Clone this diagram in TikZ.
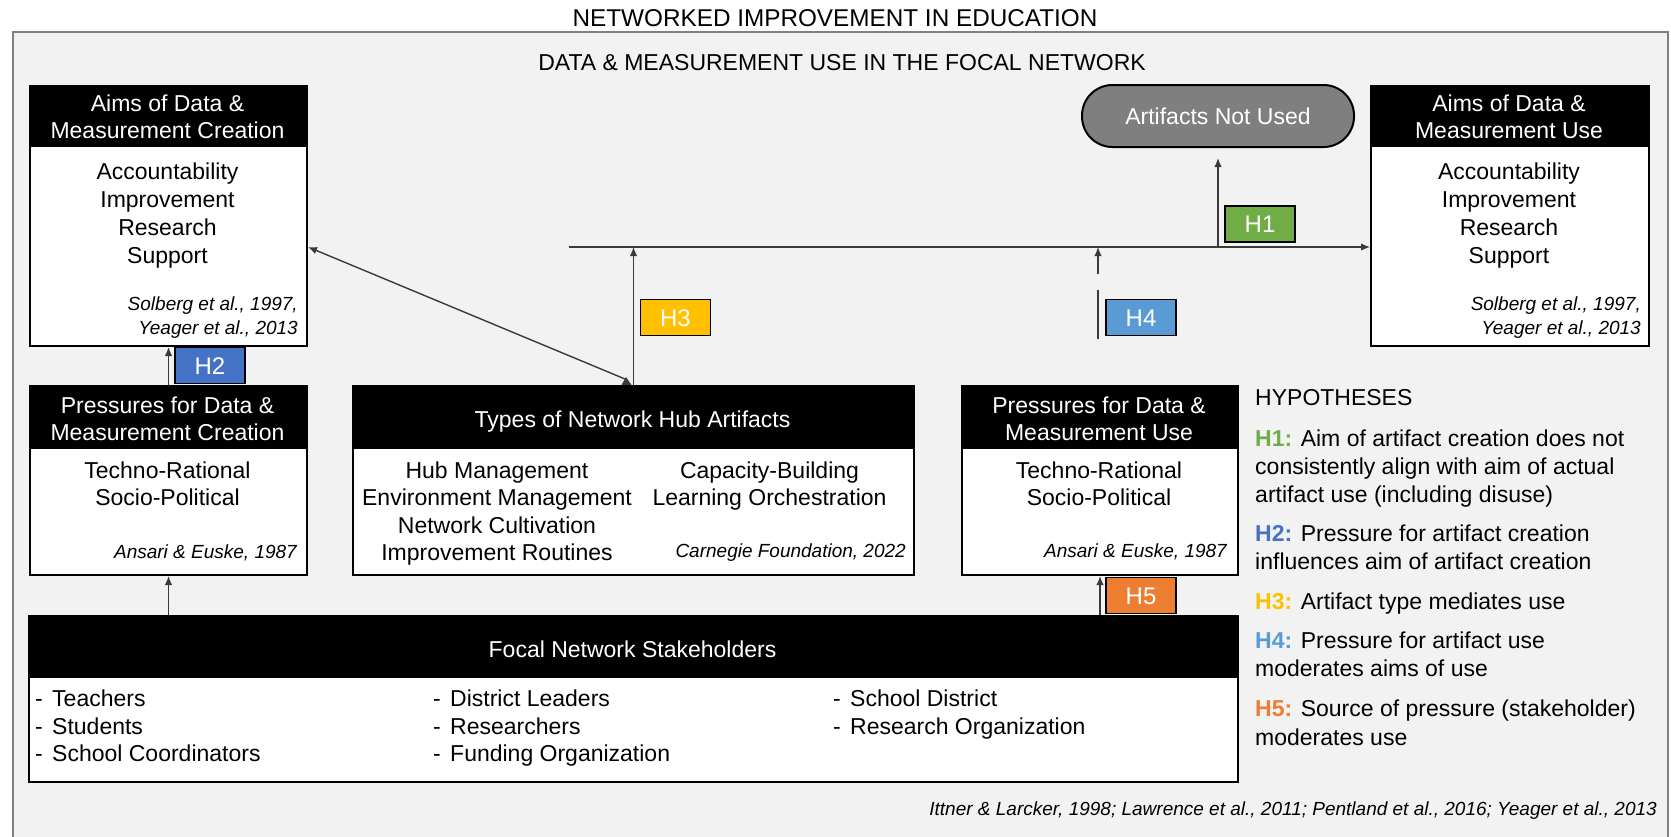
\documentclass[tikz,border=0pt]{standalone}
\usepackage{fontspec}
\setmainfont{Liberation Sans}
\usetikzlibrary{arrows.meta,calc}

\definecolor{panelbg}{HTML}{F2F2F2}
\definecolor{framegray}{HTML}{808080}
\definecolor{linegray}{HTML}{3A3A3A}
\definecolor{pillgray}{HTML}{7F7F7F}
\definecolor{hone}{HTML}{70AD47}
\definecolor{htwo}{HTML}{4472C4}
\definecolor{hthree}{HTML}{FFC000}
\definecolor{hfour}{HTML}{5B9BD5}
\definecolor{hfive}{HTML}{ED7D31}

% stack of text lines: name, x, first baseline, line step, style, {line,line,...}
\newcommand\txtlines[6]{%
  \foreach \myline [count=\i] in {#6}{%
    \node[anchor=base, inner sep=0pt, #5] (#1-\i) at (#2, {#3+(\i-1)*#4}) {\myline};}}
% black title bar across the top of a panel
\newcommand\headbar[2]{\fill[black] (#1.north west) rectangle ($(#1.north east)+(0,#2)$);}
% list entry with a leading dash
\newcommand\dashitem[1]{\makebox[17pt][l]{-}#1}

\tikzset{
  txt/.style={font=\fontsize{23}{28}\selectfont},
  hdr/.style={font=\fontsize{23}{28}\selectfont, text=white},
  cite/.style={font=\fontsize{19}{24}\selectfont\itshape},
  panel/.style={draw=black, line width=2pt, fill=white, anchor=north west, inner sep=0pt},
  hbox/.style={draw=black, line width=1.8pt, minimum width=70pt, minimum height=36pt,
    inner sep=0pt, text=white, font=\fontsize{24}{28}\selectfont, text height=17pt, text depth=0pt},
  conn/.style={draw=linegray, line width=1.4pt},
  arr/.style={conn, -{Latex[length=9pt, width=7.5pt]}},
}

\begin{document}
\begin{tikzpicture}[x=1pt, y=-1pt]
\useasboundingbox (0,0) rectangle (1671,836);
\clip (0,0) rectangle (1671,836);
\fill[white] (0,0) rectangle (1671,836);

% outer frame
\path[fill=panelbg, draw=framegray, line width=2pt] (13,32) rectangle (1668,880);

% titles
\node[anchor=base, inner sep=0pt, font=\fontsize{24.3}{28}\selectfont] (title) at (835,26.7) {NETWORKED IMPROVEMENT IN EDUCATION};
\node[anchor=base, inner sep=0pt, txt] (subtitle) at (842,70.7) {DATA \& MEASUREMENT USE IN THE FOCAL NETWORK};

% panels
\node[panel, minimum width=277pt, minimum height=260pt] (aimsC) at (29,85) {};
\headbar{aimsC}{62}
\node[panel, minimum width=278pt, minimum height=260pt] (aimsU) at (1370,85) {};
\headbar{aimsU}{62}
\node[panel, minimum width=277pt, minimum height=189pt] (presC) at (29,385) {};
\headbar{presC}{64}
\node[panel, minimum width=561pt, minimum height=189pt] (types) at (352,385) {};
\headbar{types}{64}
\node[panel, minimum width=276pt, minimum height=189pt] (presU) at (961,385) {};
\headbar{presU}{64}
\node[panel, minimum width=1209pt, minimum height=166pt] (stake) at (28,615) {};
\headbar{stake}{63}

% aims of creation
\txtlines{aimsCh}{167.5}{111}{27.5}{hdr}{{Aims of Data \&},{Measurement Creation}}
\txtlines{aimsCb}{167.5}{179}{28}{txt}{Accountability,Improvement,Research,Support}
\txtlines{aimsCc}{298}{310}{24}{cite, anchor=base east}{{Solberg et al., 1997,},{Yeager et al., 2013}}

% aims of use
\txtlines{aimsUh}{1509}{111}{27.5}{hdr}{{Aims of Data \&},{Measurement Use}}
\txtlines{aimsUb}{1509}{179}{28}{txt}{Accountability,Improvement,Research,Support}
\txtlines{aimsUc}{1641}{310}{24}{cite, anchor=base east}{{Solberg et al., 1997,},{Yeager et al., 2013}}

% pressures for creation
\txtlines{presCh}{167.5}{413}{27.5}{hdr}{{Pressures for Data \&},{Measurement Creation}}
\txtlines{presCb}{167.5}{478}{27.5}{txt}{Techno-Rational,Socio-Political}
\node[anchor=base east, inner sep=0pt, cite] (presCc) at (297,558) {Ansari \& Euske, 1987};

% artifact types
\node[anchor=base, inner sep=0pt, hdr] (typesh) at (632.5,427) {Types of Network Hub Artifacts};
\txtlines{typesL}{497}{478}{27.5}{txt}{Hub Management,Environment Management,Network Cultivation,Improvement Routines}
\txtlines{typesR}{769.5}{478}{27.5}{txt}{Capacity-Building,Learning Orchestration}
\node[anchor=base east, inner sep=0pt, cite] (typesc) at (906,557) {Carnegie Foundation, 2022};

% pressures for use
\txtlines{presUh}{1099}{413}{27.5}{hdr}{{Pressures for Data \&},{Measurement Use}}
\txtlines{presUb}{1099}{478}{27.5}{txt}{Techno-Rational,Socio-Political}
\node[anchor=base east, inner sep=0pt, cite] (presUc) at (1227,557) {Ansari \& Euske, 1987};

% stakeholders
\node[anchor=base, inner sep=0pt, hdr] (staketitle) at (632.5,657) {Focal Network Stakeholders};
\txtlines{stakeA}{35}{706.7}{27.5}{txt, anchor=base west}{\dashitem{Teachers},\dashitem{Students},\dashitem{School Coordinators}}
\txtlines{stakeB}{433}{706.7}{27.5}{txt, anchor=base west}{\dashitem{District Leaders},\dashitem{Researchers},\dashitem{Funding Organization}}
\txtlines{stakeC}{833}{706.7}{27.5}{txt, anchor=base west}{\dashitem{School District},\dashitem{Research Organization}}

% artifacts not used
\node[draw=black, line width=2pt, fill=pillgray, rounded corners=30.5pt, minimum width=272pt,
  minimum height=62pt, inner sep=0pt, text=white, font=\fontsize{23}{28}\selectfont,
  text height=16.5pt, text depth=0pt] (notused) at (1218,116) {Artifacts Not Used};

% connectors
\coordinate (hl) at (569,247);
\draw[arr] (hl) -- (aimsU.west |- hl);
\draw[arr] (types.north) -- (types.north |- hl);
\coordinate (diagfoot) at (625,379);
\draw[arr] (diagfoot) -- (aimsC.east |- hl);
\fill[linegray] (621.5,385) -- (626,377) -- (631.5,385) -- cycle;
\draw[arr] (presC.north) -- (aimsC.south);
\draw[arr] (presC.south |- stake.north) -- (presC.south);
\draw[arr] (presU.south |- stake.north) -- (presU.south);
\coordinate (h4low) at (1098,339);
\coordinate (h4mid) at (1098,290);
\coordinate (h4up) at (1098,274);
\draw[conn] (h4low) -- (h4mid);
\draw[arr] (h4up) -- (h4up |- hl);
\draw[arr] (notused.south |- hl) -- ([yshift=-10pt]notused.south);

% hypothesis tags
\node[hbox, fill=hone] (tagA) at (1260,224) {H1};
\node[hbox, fill=htwo] (tagB) at (210,365.5) {H2};
\node[hbox, fill=hthree] (tagC) at (675.5,317.5) {H3};
\node[hbox, fill=hfour] (tagD) at (1141,317.5) {H4};
\node[hbox, fill=hfive] (tagE) at (1141,595.5) {H5};

% hypotheses list
\node[anchor=base west, inner sep=0pt, txt] (hyp) at (1255,405.7) {HYPOTHESES};
\txtlines{hypA}{1255}{446}{28}{txt, anchor=base west}{{\textbf{\color{hone}H1:} Aim of artifact creation does not},{consistently align with aim of actual},{artifact use (including disuse)}}
\txtlines{hypB}{1255}{541}{28}{txt, anchor=base west}{{\textbf{\color{htwo}H2:} Pressure for artifact creation},{influences aim of artifact creation}}
\txtlines{hypC}{1255}{609}{28}{txt, anchor=base west}{{\textbf{\color{hthree}H3:} Artifact type mediates use}}
\txtlines{hypD}{1255}{648}{28.5}{txt, anchor=base west}{{\textbf{\color{hfour}H4:} Pressure for artifact use},{moderates aims of use}}
\txtlines{hypE}{1255}{716}{29}{txt, anchor=base west}{{\textbf{\color{hfive}H5:} Source of pressure (stakeholder)},{moderates use}}

% references
\node[anchor=base east, inner sep=0pt, cite] (refs) at (1657,815) {Ittner \& Larcker, 1998; Lawrence et al., 2011; Pentland et al., 2016; Yeager et al., 2013};
\end{tikzpicture}
\end{document}
